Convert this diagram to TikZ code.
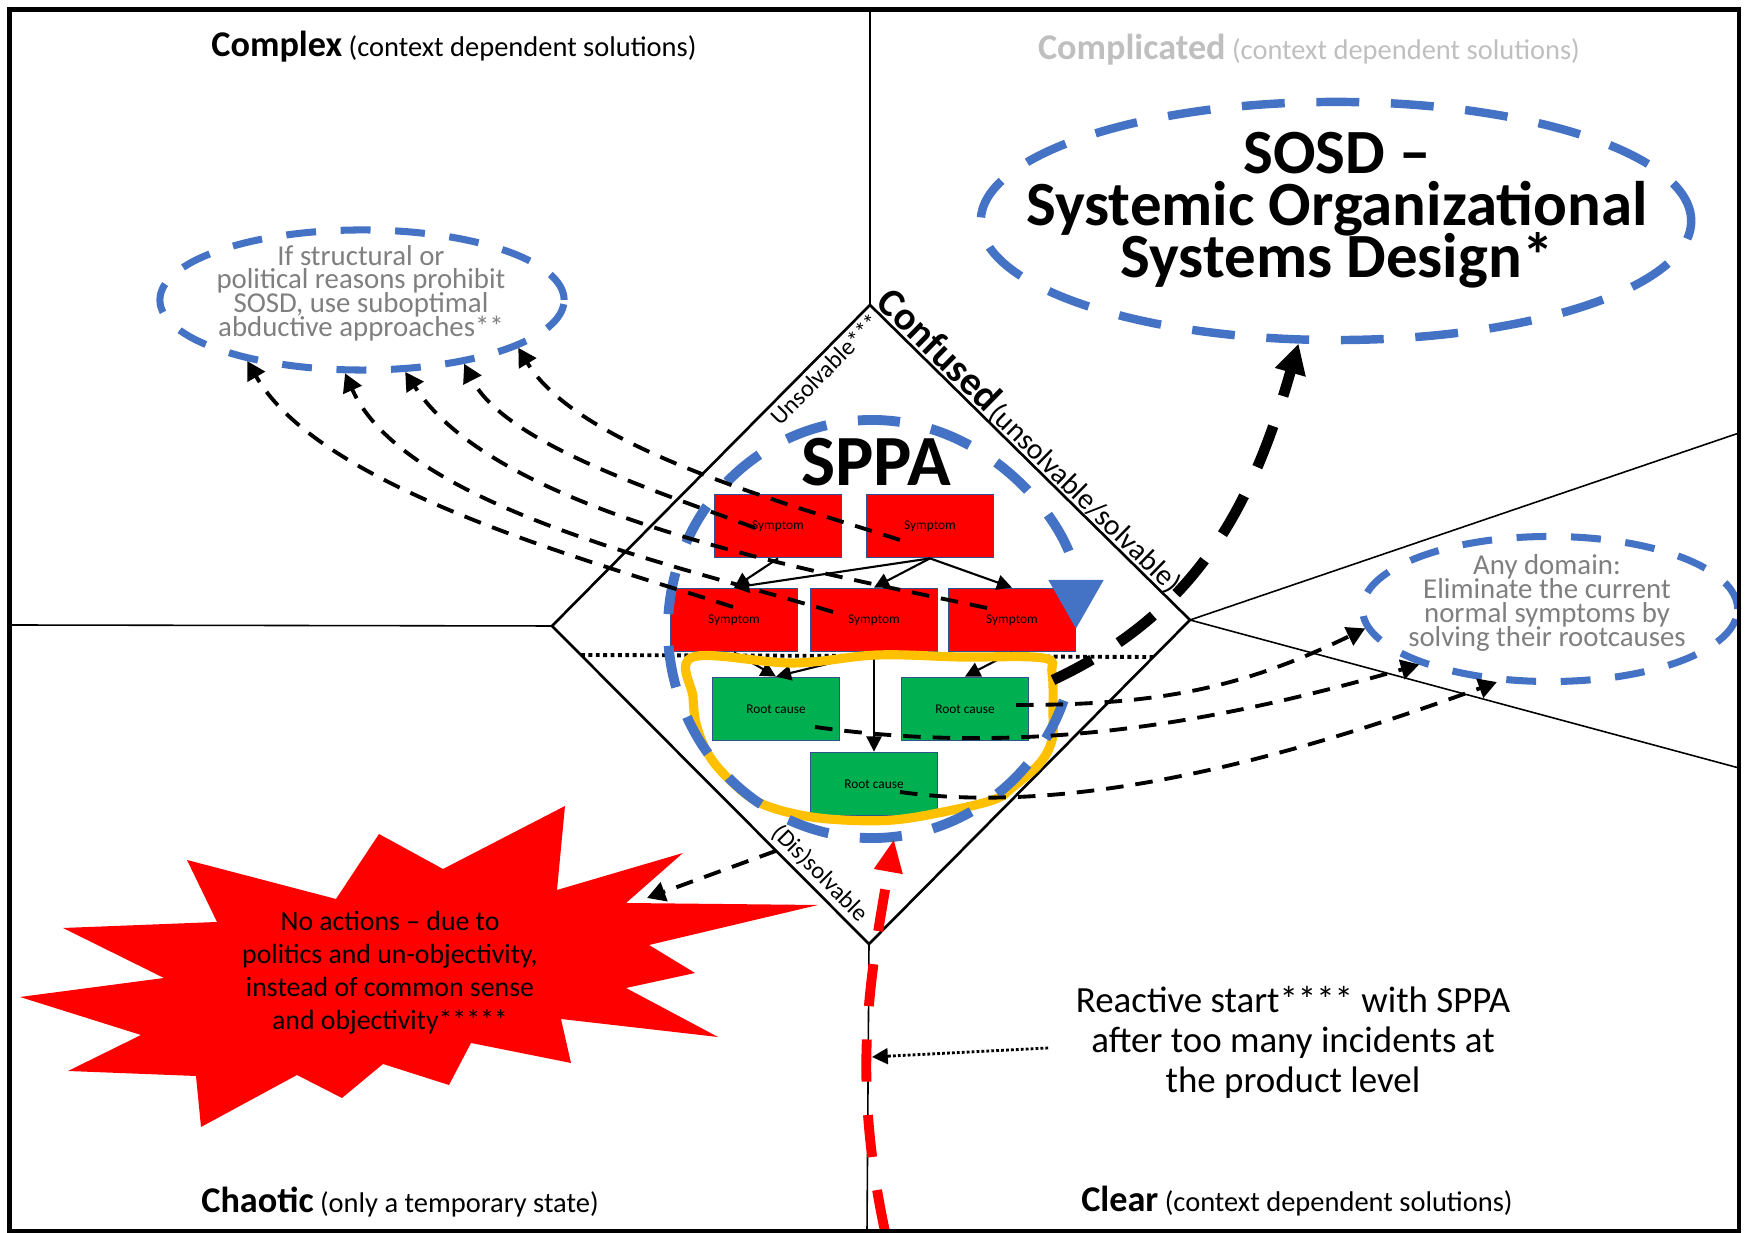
\documentclass[tikz,border=0pt]{standalone}
\usepackage{fontspec}
\setmainfont{Carlito}
\usetikzlibrary{arrows.meta,shapes.geometric}

\definecolor{sppablue}{HTML}{4472C4}
\definecolor{boxedge}{HTML}{2F528F}
\definecolor{symptomred}{HTML}{FF0000}
\definecolor{causegreen}{HTML}{00B050}
\definecolor{causeyellow}{HTML}{FFC000}
\definecolor{notegray}{HTML}{7F7F7F}
\definecolor{palegray}{HTML}{BFBFBF}

\lineskiplimit=-50pt

\newcommand{\domname}[1]{{\fontsize{10.3}{12}\selectfont\bfseries #1}}

\tikzset{
  domainline/.style={line width=0.45pt},
  diamondline/.style={line width=0.75pt},
  domainlabel/.style={anchor=base, inner sep=0pt, font=\fontsize{8.1}{9.7}\selectfont},
  edgelabel/.style={anchor=base, inner sep=0pt, font=\fontsize{6.9}{8.3}\selectfont},
  symptom/.style={rectangle, draw=boxedge, line width=0.5pt, fill=symptomred, minimum width=1.27cm, minimum height=0.63cm, inner sep=0pt, font=\fontsize{3.8}{4.6}\selectfont},
  rootcause/.style={symptom, fill=causegreen},
  causal/.style={->, >={Triangle[length=4.3pt,width=4.3pt]}, line width=0.6pt},
  divide/.style={line width=1.1pt, dash pattern=on 1.1pt off 1pt},
  sppaloop/.style={->, >={Triangle[length=14pt,width=15pt]}, sppablue, line width=2.8pt, dash pattern=on 12pt off 9pt},
  rootring/.style={causeyellow, line width=2.6pt},
  notering/.style={ellipse, draw=sppablue, line width=2pt, dash pattern=on 8.5pt off 7pt, inner sep=0pt},
  notetext/.style={align=center, text=notegray, font=\fontsize{8.2}{6.75}\selectfont, inner sep=0pt},
  sosdring/.style={notering, line width=2.4pt, dash pattern=on 12.2pt off 9pt},
  sosdtext/.style={align=center, font=\fontsize{17.9}{14.8}\selectfont\bfseries, inner sep=0pt},
  sppatitle/.style={font=\fontsize{20.5}{24}\selectfont\bfseries, inner sep=0pt},
  hint/.style={->, >={Triangle[length=5.2pt,width=5.6pt]}, line width=1.1pt, dash pattern=on 5pt off 3.4pt},
  design/.style={->, >={Triangle[length=8.5pt,width=8.5pt]}, line width=3pt, dash pattern=on 12.5pt off 9pt},
  reactive/.style={->, >={Triangle[length=9.4pt,width=7.6pt]}, symptomred, line width=2.8pt, dash pattern=on 12pt off 9.5pt},
  pointer/.style={->, >={Triangle[length=4.5pt,width=4.5pt]}, line width=0.8pt, dash pattern=on 0.8pt off 0.6pt},
  bursttext/.style={align=center, font=\fontsize{7.9}{9.4}\selectfont, inner sep=0pt},
  reacttext/.style={align=center, font=\fontsize{10.5}{11.4}\selectfont, inner sep=0pt},
}

\begin{document}
\begin{tikzpicture}[x=0.01cm, y=0.01cm]
\useasboundingbox (0,0) rectangle (1747,1233);

\coordinate (dtop) at (870,928);
\coordinate (dleft) at (552,607);
\coordinate (dright) at (1190,613);
\coordinate (dbot) at (869,289);

\draw[domainline] (870,1223.5) -- (dtop);
\draw[domainline] (9.5,608) -- (dleft);
\draw[domainline] (dbot) -- (867,1.5);
\draw[domainline] (dright) -- (1739,800);
\draw[domainline] (dright) -- (1739,465);
\draw[diamondline] (dtop) -- (dright) -- (dbot) -- (dleft) -- cycle;
\path (dleft) -- coordinate[pos=0.707] (dissolve) (dbot);

\draw[divide] (581,578) -- (1153,576);

\fill[symptomred] (565,427) -- (557,343) -- (683,380) -- (626,330) -- (818,328) -- (649,288) -- (695,260) -- (626,245) -- (718,196) -- (561,214) -- (571,170) -- (471,190) -- (449,148) -- (383,169) -- (342,135) -- (297,158) -- (201,106) -- (196,157) -- (68,162) -- (141,198) -- (20,236) -- (164,255) -- (63,305) -- (217,311) -- (187,373) -- (336,334) -- (379,399) -- (443,364) -- cycle;
\coordinate (burstpoint) at (647,335);

\node[symptom] (s1) at (778,707) {Symptom};
\node[symptom] (s2) at (930,707) {Symptom};
\node[symptom] (s3) at (734,613) {Symptom};
\node[symptom] (s4) at (874,613) {Symptom};
\node[symptom] (s5) at (1012,613) {Symptom};
\node[rootcause] (r1) at (776,524) {Root cause};
\node[rootcause] (r2) at (965,524) {Root cause};
\node[rootcause] (r3) at (874,449) {Root cause};

\draw[causal] (s1.south) -- (s3.north);
\draw[causal] (s2.south) -- (s3.north);
\draw[causal] (s2.south) -- (s4.north);
\draw[causal] (s2.south) -- (s5.north);
\draw[causal] (s3.south) -- (r1.north);
\draw[causal] (s4.south) -- (r1.north);
\draw[causal] (s4.south) -- (r3.north);
\draw[causal] (s5.south) -- (r2.north);

\draw[rootring] plot[smooth cycle, tension=0.6] coordinates {(693,576) (793,570) (877,578) (960,576) (1043,575) (1052,560) (1053,520) (1052,493) (1040,470) (1013,446) (993,433) (943,421) (893,413) (843,413) (800,418) (760,430) (733,450) (710,476) (697,506) (693,536)};
\coordinate (ringedge) at (1053,553);

\draw[sppaloop] (1063.7,532.5) arc[start angle=-20, end angle=-360, x radius=204, y radius=209];
\coordinate (sppabottom) at (894,394);
\node[sppatitle] (sppa) at (876,771) {SPPA};

\node[notering, minimum width=4.04cm, minimum height=1.4cm] (abduct) at (362,933) {};
\node[notetext] (abducttext) at (361,940) {If structural or\\political reasons prohibit\\SOSD, use suboptimal\\abductive approaches**};

\node[notering, minimum width=3.75cm, minimum height=1.45cm] (anydomain) at (1550,624) {};
\node[notetext] (anydomaintext) at (1547,630) {Any domain:\\Eliminate the current\\normal symptoms by\\solving their rootcauses};

\node[sosdring, minimum width=7.1cm, minimum height=2.38cm] (sosd) at (1336,1012) {};
\node[sosdtext] (sosdtitle) at (1337,1023) {SOSD --\\Systemic Organizational\\Systems Design*};

\draw[hint] ([shift={(-30,-14)}]s2.center) to[out=162, in=-59, looseness=0.7] (abduct.-17);
\draw[hint] ([shift={(-23,-2)}]s1.center) to[out=159, in=-63, looseness=0.7] (abduct.-32);
\draw[hint] ([shift={(-25,12)}]s5.center) to[out=168, in=-57, looseness=0.7] (abduct.-59);
\draw[hint] ([shift={(-41,8)}]s4.center) to[out=163, in=-66, looseness=0.7] (abduct.-103);
\draw[hint] ([shift={(-1,13)}]s3.center) to[out=162, in=-60, looseness=0.7] (abduct.-152);

\draw[hint] ([shift={(51,4)}]r2.center) to[out=0, in=206] (anydomain.186);
\draw[hint] ([shift={(39,-18)}]r1.center) to[out=-8, in=196, looseness=0.9] (anydomain.203);
\draw[hint] ([shift={(26,-8)}]r3.center) to[out=-8, in=200, looseness=0.8] (anydomain.234);

\draw[hint] (dissolve) -- (burstpoint);

\draw[design] (ringedge) to[out=25, in=254] (sosd.253);

\coordinate (redstart) at (885,1.5);
\coordinate (redhit) at (872,176);
\draw[reactive] (redstart) to[out=102, in=260] (sppabottom);

\node[reacttext] (react) at (1293,191) {Reactive start**** with SPPA\\after too many incidents at\\the product level};
\draw[pointer] ([shift={(-27,-6)}]react.west) -- (redhit);

\node[bursttext] (noaction) at (390,260) {No actions -- due to\\politics and un-objectivity,\\instead of common sense\\and objectivity*****};

\node[domainlabel] (complex) at (454,1176) {\domname{Complex} (context dependent solutions)};
\node[domainlabel, text=palegray] (complicated) at (1309,1173) {\domname{Complicated} (context dependent solutions)};
\node[domainlabel] (chaotic) at (400,20) {\domname{Chaotic} (only a temporary state)};
\node[domainlabel] (clear) at (1297,21) {\domname{Clear} (context dependent solutions)};

\node[edgelabel, rotate=45.3] (unsolvable) at (831.5,858) {Unsolvable***};
\node[edgelabel, rotate=-44.5, font=\fontsize{11.4}{13}\selectfont\bfseries] (confused) at (930.5,874) {Confused};
\node[edgelabel, rotate=-44.5, font=\fontsize{8.4}{10}\selectfont] (confusedhint) at (1078.8,728) {(unsolvable/solvable)};
\node[edgelabel, rotate=-45.1] (dissolvable) at (815,354.5) {(Dis)solvable};

\draw[line width=1.4pt] (9.5,1.5) rectangle (1739,1223.5);

\end{tikzpicture}
\end{document}
